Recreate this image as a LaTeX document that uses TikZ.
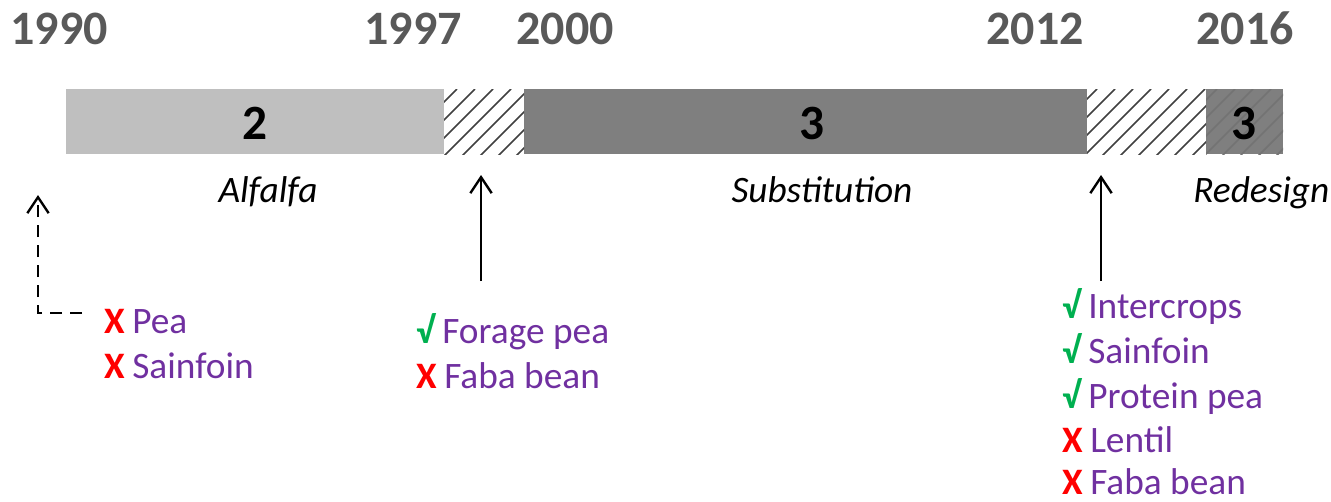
\documentclass[tikz,border=0pt]{standalone}
\usepackage{fontspec}
\setmainfont{Carlito}
\usetikzlibrary{arrows.meta}
\definecolor{lightbar}{HTML}{BFBFBF}
\definecolor{darkbar}{HTML}{7F7F7F}
\definecolor{yeargray}{HTML}{595959}
\definecolor{plum}{HTML}{7030A0}
\definecolor{okgreen}{HTML}{00B050}
\definecolor{nored}{HTML}{FF0000}
\tikzset{
  year/.style={font=\fontsize{36}{40}\selectfont\bfseries, text=yeargray, inner sep=0pt, anchor=base},
  barnum/.style={font=\fontsize{37}{40}\selectfont\bfseries, inner sep=0pt, anchor=base},
  phase/.style={font=\fontsize{28}{32}\selectfont\itshape, inner sep=0pt, anchor=base},
  item/.style={font=\fontsize{28}{32}\selectfont, text=plum, inner sep=0pt, anchor=base west},
  hatchline/.style={line width=1.3pt, draw=black!75},
  pointer/.style={line width=1.8pt, -{Straight Barb[length=12pt,width=16pt,line width=1.8pt]}},
}
\newcommand{\yes}{\textcolor{okgreen}{\bfseries √}\hspace{0.2em}}
\newcommand{\no}{\textcolor{nored}{\bfseries X}\hspace{0.2em}}
\begin{document}
\begin{tikzpicture}[x=0.75pt,y=-0.75pt]
\useasboundingbox (0,0) rectangle (1331,501);
% bars
\fill[lightbar] (66,89) rectangle (444,154);
\fill[darkbar] (524,89) rectangle (1087,154);
\fill[darkbar] (1206,89) rectangle (1283,154);
\begin{scope}
  \clip (444,89) rectangle (524,154);
  \foreach \x in {370,388,...,530} \draw[hatchline] (\x,158) -- ++(69,-69);
\end{scope}
\begin{scope}
  \clip (1087,89) rectangle (1206,154);
  \foreach \x in {1010,1028,...,1220} \draw[hatchline] (\x,158) -- ++(69,-69);
\end{scope}
\begin{scope}
  \clip (1206,89) rectangle (1283,154);
  \foreach \x in {1130,1148,...,1290} \draw[hatchline, draw=black!55] (\x,158) -- ++(69,-69);
\end{scope}
% years
\node[year] (y1990) at (59,44) {1990};
\node[year] (y1997) at (413,44) {1997};
\node[year] (y2000) at (565,44) {2000};
\node[year] (y2012) at (1035,44) {2012};
\node[year] (y2016) at (1245,44) {2016};
% bar numbers
\node[barnum] (n1) at (255,139) {2};
\node[barnum] (n2) at (812,139) {3};
\node[barnum] (n3) at (1244,139) {3};
% phase labels
\node[phase] (alfalfa) at (268,202) {Alfalfa};
\node[phase] (subst) at (822,202) {Substitution};
\node[phase, anchor=base west] (redesign) at (1193,202) {Redesign};
% arrows
\coordinate (t1990) at (38,195);
\coordinate (c1990) at (38,313);
\coordinate (s1990) at (82,313);
\coordinate (t1998) at (481,175);
\coordinate (s1998) at (481,281);
\coordinate (t2013) at (1101,175);
\coordinate (s2013) at (1101,281);
\draw[pointer, line width=1.5pt, dash pattern=on 9pt off 6pt] (s1990) -- (c1990) -- (t1990);
\draw[pointer] (s1998) -- (t1998);
\draw[pointer] (s2013) -- (t2013);
% lists
\node[item] (pea) at (104,333) {\no Pea};
\node[item] (sain1) at (104,378) {\no Sainfoin};
\node[item] (forage) at (416,343) {\yes Forage pea};
\node[item] (faba1) at (416,388) {\no Faba bean};
\node[item] (inter) at (1062,318) {\yes Intercrops};
\node[item] (sain2) at (1062,363) {\yes Sainfoin};
\node[item] (prot) at (1062,408) {\yes Protein pea};
\node[item] (lentil) at (1062,452) {\no Lentil};
\node[item] (faba2) at (1062,494) {\no Faba bean};
\end{tikzpicture}
\end{document}
